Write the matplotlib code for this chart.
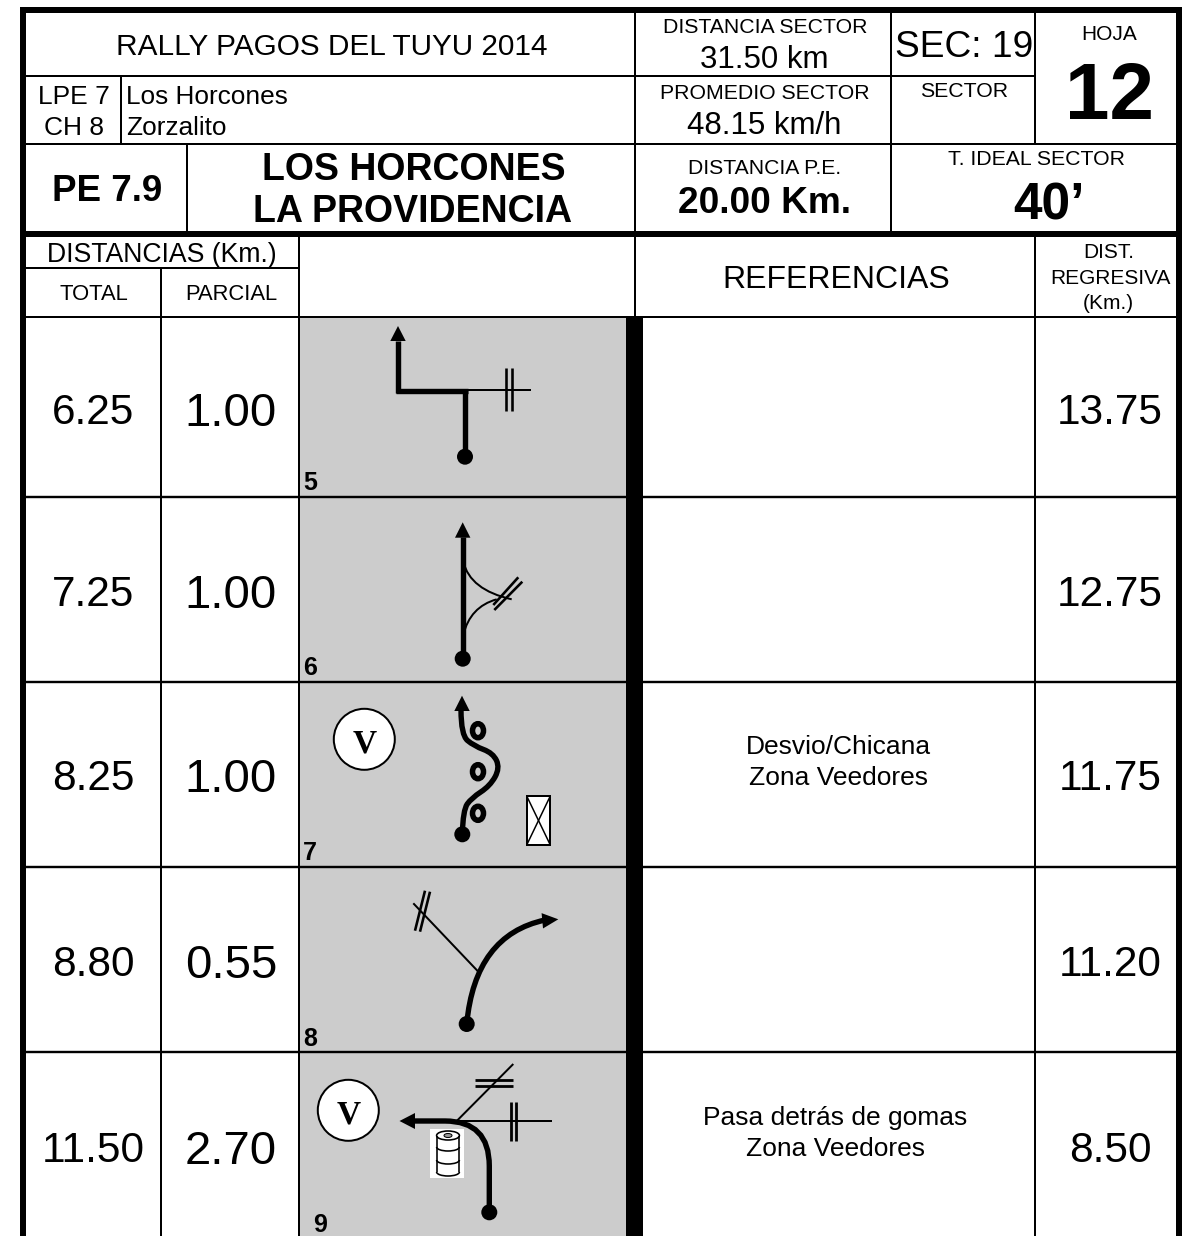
import matplotlib
matplotlib.use('Agg')
import matplotlib.pyplot as plt
from matplotlib.patches import Circle, Ellipse, Polygon, Rectangle, PathPatch, Arc
from matplotlib.path import Path

plt.rcParams['font.family'] = ['Liberation Sans', 'DejaVu Sans']

total = ['6.25', '7.25', '8.25', '8.80', '11.50']
parcial = ['1.00', '1.00', '1.00', '0.55', '2.70']
regresiva = ['13.75', '12.75', '11.75', '11.20', '8.50']
referencias = ['', '', 'Desvio/Chicana\nZona Veedores', '', 'Pasa detrás de gomas\nZona Veedores']
numeros = ['5', '6', '7', '8', '9']

fig = plt.figure(figsize=(11.92, 12.36), dpi=100)
ax = fig.add_axes([0, 0, 1, 1])
ax.set_xlim(0, 1192)
ax.set_ylim(1236, 0)
ax.axis('off')


def px(w):
    return w * 0.72


def line(xs, ys, w=2, z=3):
    ax.plot(xs, ys, color='k', lw=px(w), solid_capstyle='butt', solid_joinstyle='miter', zorder=z)


def txt(x, y, s, size, weight='normal', ha='center', family=None):
    # y is the middle of the capitals, so go through the baseline
    kw = {'family': family} if family else {}
    base = y + 0.358 * size * 100 / 72
    ax.text(x, base, s, fontsize=size, fontweight=weight, ha=ha, va='baseline', color='k', zorder=6, **kw)


def arrow_head(tip, base, half):
    # triangle pointing from base to tip
    dx, dy = tip[0] - base[0], tip[1] - base[1]
    n = (dx ** 2 + dy ** 2) ** 0.5
    ox, oy = -dy / n * half, dx / n * half
    ax.add_patch(Polygon([tip, (base[0] + ox, base[1] + oy), (base[0] - ox, base[1] - oy)],
                         fc='k', ec='none', zorder=5))


def dot(x, y):
    ax.add_patch(Circle((x, y), 8, fc='k', ec='none', zorder=5))


def curve(pts, w, smooth=False):
    # pts are quadratic control points, smooth goes through the midpoints
    if smooth:
        verts = [pts[0]]
        codes = [Path.MOVETO]
        for i in range(1, len(pts) - 1):
            if i < len(pts) - 2:
                end = ((pts[i][0] + pts[i + 1][0]) / 2, (pts[i][1] + pts[i + 1][1]) / 2)
            else:
                end = pts[-1]
            verts += [pts[i], end]
            codes += [Path.CURVE3, Path.CURVE3]
    else:
        verts = pts
        codes = [Path.MOVETO] + [Path.CURVE3] * (len(pts) - 1)
    ax.add_patch(PathPatch(Path(verts, codes), fc='none', ec='k', lw=px(w), capstyle='butt', zorder=4))


def veedor(x, y):
    ax.add_patch(Circle((x, y), 30.5, fc='w', ec='k', lw=px(2), zorder=4))
    txt(x, y + 1, 'V', 24, 'bold', family='Liberation Serif')


# gray strip and the black bar
ax.add_patch(Rectangle((299, 317), 327, 919, fc='#cccccc', ec='none', zorder=1))
ax.add_patch(Rectangle((626, 317), 17, 919, fc='k', ec='none', zorder=2))

# frame
line([23, 23], [7, 1236], 6)
line([1179, 1179], [7, 1236], 6)
line([20, 1182], [10, 10], 6)
line([20, 1182], [234, 234], 6)

# header grid
line([22, 1035], [75.7, 75.7], 2)
line([22, 1179], [143.7, 143.7], 2)
line([121, 121], [76, 144], 2)
line([186.7, 186.7], [144, 232], 2)
line([635, 635], [10, 317], 2)
line([891, 891], [10, 232], 2)
line([1035, 1035], [10, 144], 2)
line([1035, 1035], [236, 1236], 2)
line([22, 299], [267.7, 267.7], 2)
line([22, 1179], [317, 317], 2)
line([161, 161], [268, 1236], 2)
line([299, 299], [236, 1236], 2)
for y in [497, 682, 867, 1052]:
    line([22, 1179], [y, y], 2.4)

# header text
txt(332, 44, 'RALLY PAGOS DEL TUYU 2014', 21.4)
txt(73.7, 94.7, 'LPE 7', 19)
txt(73.5, 125.7, 'CH 8', 19)
txt(126, 94.7, 'Los Horcones', 18.9, ha='left')
txt(126, 125.7, 'Zorzalito', 18.9, ha='left')
txt(107, 187.5, 'PE 7.9', 26.5, 'bold')
txt(413.5, 167, 'LOS HORCONES', 27, 'bold')
txt(413, 209, 'LA PROVIDENCIA', 27, 'bold')
txt(162, 252.4, 'DISTANCIAS (Km.)', 19.2)
txt(94, 292, 'TOTAL', 15.8)
txt(231.5, 292, 'PARCIAL', 15.8)
txt(765, 25.7, 'DISTANCIA SECTOR', 15.3)
txt(764, 57.2, '31.50 km', 22.5)
txt(964.6, 44, 'SEC: 19', 26.7)
txt(1109, 32.5, 'HOJA', 15)
txt(1110, 90.8, '12', 57.6, 'bold')
txt(964, 89, 'SECTOR', 15.3)
txt(764.4, 91, 'PROMEDIO SECTOR', 15.3)
txt(764, 122.5, '48.15 km/h', 22.5)
txt(765, 166, 'DISTANCIA P.E.', 15.2)
txt(764, 200, '20.00 Km.', 26.7, 'bold')
txt(1036.7, 157.8, 'T. IDEAL SECTOR', 15.3)
txt(1049, 201, '40’', 37, 'bold')
txt(836.5, 276.7, 'REFERENCIAS', 23)
txt(1109, 251, 'DIST.', 15)
txt(1110, 276.7, 'REGRESIVA', 15)
txt(1108, 302, '(Km.)', 15)

# table rows
centros = [409, 591, 775, 961, 1147]
base_num = [490, 675, 860, 1046, 1232]
x_num = [303, 303, 303, 303, 313]
for i in range(len(total)):
    txt(93, centros[i], total[i], 30.5)
    txt(231, centros[i], parcial[i], 34)
    txt(1110, centros[i], regresiva[i], 30.5)
    if referencias[i]:
        a, b = referencias[i].split('\n')
        c = 838.5 if i == 2 else 835
        txt(c, centros[i] - 31 if i == 4 else centros[i] - 30, a, 19)
        txt(c, centros[i] if i == 4 else centros[i] + 1, b, 19)
    ax.text(x_num[i], base_num[i], numeros[i], fontsize=18, fontweight='bold', ha='left', va='baseline', zorder=6)

# 5
line([465, 465], [456, 388.5], 5.4)
line([467.5, 395.5], [390.7, 390.7], 5.4)
line([398, 398], [393, 341], 5.4)
arrow_head((398, 326), (398, 341), 7.7)
dot(465, 456.7)
line([465, 531], [389.7, 389.7], 2)
line([505.7, 505.7], [368.3, 411], 2.6)
line([511.7, 511.7], [368.3, 411], 2.6)

# 6
line([462.7, 462.7], [658, 537], 5.4)
arrow_head((462.7, 522.3), (462.7, 537.7), 7.7)
dot(462.7, 658.7)
curve([(463.3, 561.7), (470, 590), (511.7, 599.3)], 2)
curve([(463.3, 635), (470, 606.7), (496.7, 599.3)], 2)
line([493.3, 518.3], [605, 577.3], 2.6)
line([494.3, 522.3], [610, 581.7], 2.6)

# 7
curve([(462.3, 834), (463, 810), (471.5, 798), (490, 786), (500, 768), (493, 753),
       (474, 746), (461, 735), (461, 710)], 5.4, smooth=True)
arrow_head((462, 695.7), (462, 711), 7.7)
dot(462.3, 834.3)
for yc in [730.7, 771.7, 813.3]:
    ax.add_patch(Ellipse((478, yc), 11, 14, fc='#cccccc', ec='k', lw=px(5.5), zorder=4))
veedor(364.3, 739.3)
ax.add_patch(Rectangle((526.7, 796), 23.6, 49, fc='w', ec='k', lw=px(2), zorder=4))
line([526.7, 550.3], [796, 845], 1.5, 5)
line([550.3, 526.7], [796, 845], 1.5, 5)

# 8
curve([(466.7, 1024), (475, 935), (545, 920)], 5.4)
arrow_head((558.3, 919.3), (542.3, 920.8), 7.7)
dot(466.7, 1024)
line([478.3, 413.3], [971.7, 903.3], 2)
line([415, 425], [930.7, 890.7], 2.6)
line([420, 430], [931.7, 891.7], 2.6)

# 9
ax.add_patch(PathPatch(Path([(489.3, 1212), (489.3, 1166), (489.3, 1121), (445, 1121), (415, 1121)],
                            [Path.MOVETO, Path.LINETO, Path.CURVE3, Path.CURVE3, Path.LINETO]),
                       fc='none', ec='k', lw=px(5.4), capstyle='butt', zorder=4))
arrow_head((399.5, 1121), (415, 1121), 8)
dot(489.3, 1212.3)
line([456.7, 551.7], [1121, 1121], 2)
line([510.7, 510.7], [1102.3, 1140.7], 2.8)
line([516, 516], [1102.3, 1140.7], 2.8)
line([456.7, 513.3], [1121, 1064], 2)
line([475, 513.3], [1080, 1080], 2.8)
line([475, 513.3], [1086, 1086], 2.8)
veedor(348.3, 1110.3)

# barrel
ax.add_patch(Rectangle((430, 1129), 34, 48.7, fc='w', ec='none', zorder=4))
line([436.5, 436.5], [1135.5, 1172], 1.6, 5)
line([459.3, 459.3], [1135.5, 1172], 1.6, 5)
ax.add_patch(Ellipse((448, 1135.5), 22.8, 9, fc='none', ec='k', lw=px(1.6), zorder=5))
ax.add_patch(Ellipse((448, 1135.5), 8, 4, fc='#999999', ec='k', lw=px(1), zorder=5))
for yc in [1147, 1160, 1172]:
    ax.add_patch(Arc((448, yc), 22.8, 8, theta1=0, theta2=180, ec='k', lw=px(1.6), zorder=5))

fig.savefig('out.png', dpi=100, facecolor='w')
